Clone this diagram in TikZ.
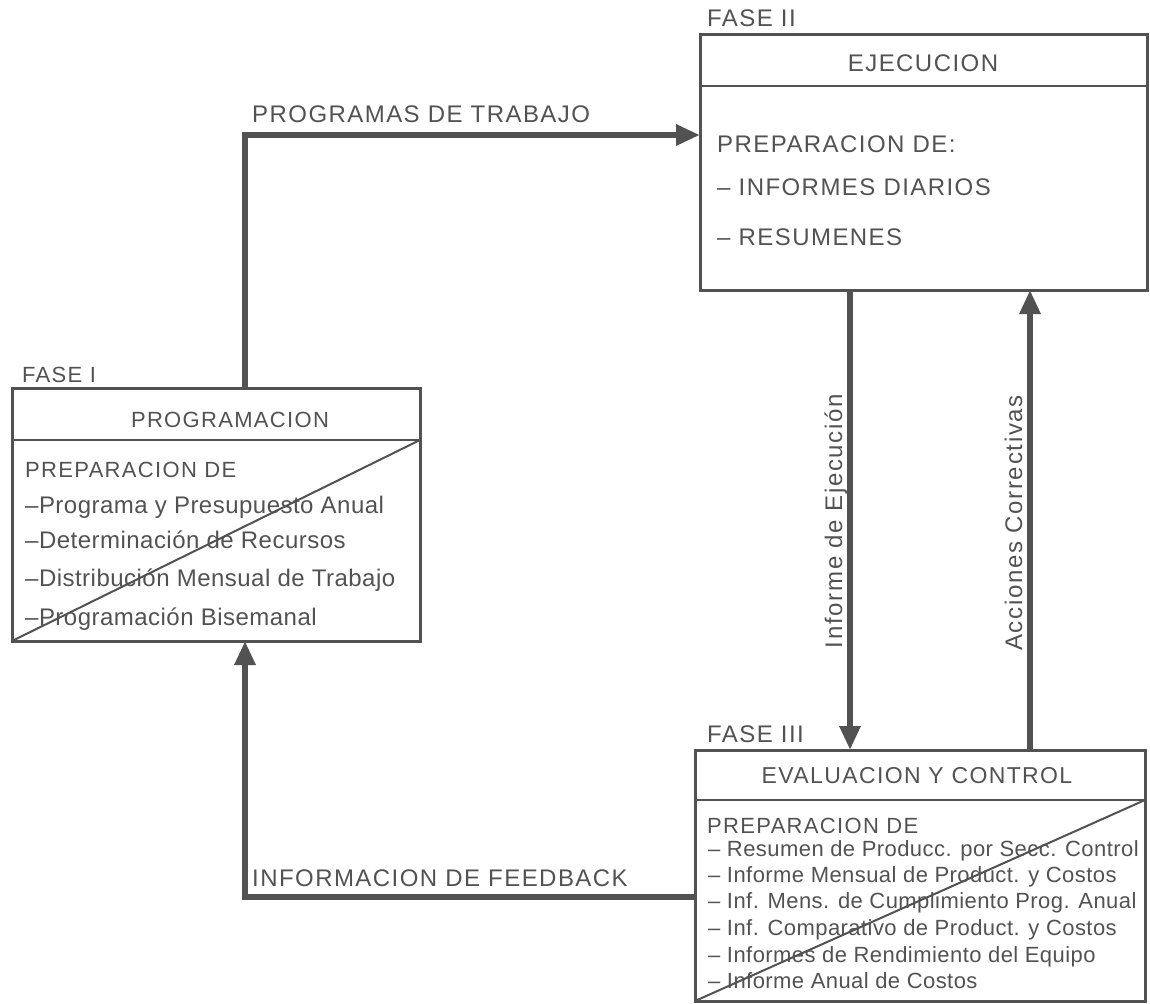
\documentclass[tikz,border=0pt]{standalone}
\usepackage{fontspec}
\setmainfont{Liberation Sans}
\newfontfamily\capsfont[LetterSpace=6]{Liberation Sans}
\newfontfamily\itemfont[LetterSpace=2]{Liberation Sans}
\newfontfamily\sidefont[LetterSpace=7]{Liberation Sans}
\usetikzlibrary{arrows.meta}
\definecolor{ink}{gray}{0.32}

\tikzstyle{phase box}=[draw=ink, line width=3pt, rectangle, outer sep=0pt, inner sep=0pt]
\tikzstyle{rule}=[draw=ink, line width=2.5pt]
\tikzstyle{cross}=[draw=ink, line width=2pt]
\tikzstyle{flow}=[draw=ink, line width=6pt, -{Triangle[length=24pt,width=20pt]}]
\tikzstyle{caps}=[text=ink, inner sep=0pt, font=\capsfont\fontsize{24}{28}\selectfont]
\tikzstyle{small caps}=[caps, font=\capsfont\fontsize{22}{26}\selectfont]
\tikzstyle{item}=[text=ink, inner sep=0pt, anchor=base west, font=\itemfont\fontsize{24}{28}\selectfont]
\tikzstyle{small item}=[item, font=\itemfont\fontsize{22}{26}\selectfont]
\tikzstyle{side}=[text=ink, inner sep=0pt, anchor=base, rotate=90, font=\sidefont\fontsize{24}{28}\selectfont]

\begin{document}
\begin{tikzpicture}[x=1pt,y=-1pt]
  \useasboundingbox (0,0) rectangle (1150,1003);
  % the three phases
  \node[phase box, minimum width=408pt, minimum height=253pt] (prog) at (216,514.5) {};
  \node[phase box, minimum width=447pt, minimum height=255pt] (ejec) at (923.5,162.5) {};
  \node[phase box, minimum width=450pt, minimum height=251pt] (eval) at (920,875.5) {};
  % title bars, then the crossing lines
  \path[rule] ([yshift=-52pt]prog.north west) -- ([yshift=-52pt]prog.north east);
  \path[rule] ([yshift=-51pt]ejec.north west) -- ([yshift=-51pt]ejec.north east);
  \path[rule] ([yshift=-50pt]eval.north west) -- ([yshift=-50pt]eval.north east);
  \path[cross] ([yshift=-52pt]prog.north east) -- (prog.south west);
  \path[cross] ([yshift=-50pt]eval.north east) -- (eval.south west);

  % fase I
  \node[small caps, anchor=base west] (f1) at (22,382) {FASE I};
  \node[small caps, anchor=base] (t1) at (230,427) {PROGRAMACION};
  \node[small caps, anchor=base west] (h1) at (25,477) {PREPARACION DE};
  \foreach \y/\txt [count=\i] in {513/{–Programa y Presupuesto Anual},
      548/{–Determinación de Recursos}, 586/{–Distribución Mensual de Trabajo},
      625/{–Programación Bisemanal}}
    \node[item] (p\i) at (25,\y) {\txt};

  % fase II
  \node[caps, anchor=base west] (f2) at (707,27) {FASE II};
  \node[caps, anchor=base] (t2) at (923,72) {EJECUCION};
  \node[caps, anchor=base west] (h2) at (717,153) {PREPARACION DE:};
  \node[caps, anchor=base west] (e1) at (717,195) {– INFORMES DIARIOS};
  \node[caps, anchor=base west] (e2) at (717,245) {– RESUMENES};

  % fase III
  \node[caps, anchor=base west] (f3) at (707,742) {FASE III};
  \node[caps, font=\capsfont\fontsize{23}{27}\selectfont, anchor=base] (t3) at (917,783) {EVALUACION Y CONTROL};
  \node[small caps, anchor=base west] (h3) at (707,833) {PREPARACION DE};
  \foreach \y/\txt [count=\i] in {856/{– Resumen de Producc. por Secc. Control},
      882/{– Informe Mensual de Product. y Costos},
      908/{– Inf. Mens. de Cumplimiento Prog. Anual},
      935/{– Inf. Comparativo de Product. y Costos},
      962/{– Informes de Rendimiento del Equipo},
      988/{– Informe Anual de Costos}}
    \node[small item] (c\i) at (708,\y) {\txt};

  % connecting flows
  \coordinate (trab) at (245,135);
  \coordinate (inf) at (850,0);
  \coordinate (acc) at (1030,0);
  \coordinate (feed) at (245,897);
  \path[flow] (prog.north -| trab) -- (trab) -- (trab -| ejec.west);
  \path[flow] (inf |- ejec.south) -- (inf |- eval.north);
  \path[flow] (acc |- eval.north) -- (acc |- ejec.south);
  \path[flow] (feed -| eval.west) -- (feed) -- (feed |- prog.south);
  \node[caps, anchor=base west] (ltrab) at (252,123) {PROGRAMAS DE TRABAJO};
  \node[caps, anchor=base west] (lfeed) at (252,886) {INFORMACION DE FEEDBACK};
  \node[side] (linf) at (842,521) {Informe de Ejecución};
  \node[side] (lacc) at (1022,523) {Acciones Correctivas};
\end{tikzpicture}
\end{document}
